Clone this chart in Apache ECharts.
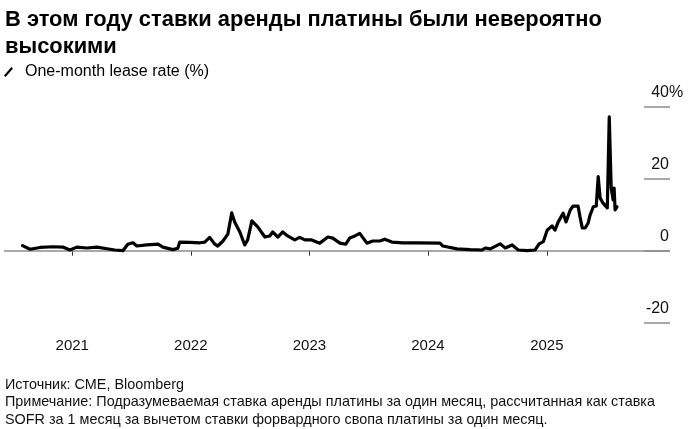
<!DOCTYPE html>
<html>
<head>
<meta charset="utf-8">
<script src="https://cdn.jsdelivr.net/npm/echarts@6/dist/echarts.min.js"></script>
<style>
html,body{margin:0;padding:0;background:#fff;}
#chart{width:691px;height:429px;}
</style>
</head>
<body>
<div id="chart"></div>
<script>
const titleText = 'В этом году ставки аренды платины были невероятно\nвысокими';
const legendName = 'One-month lease rate (%)';
const footerText = 'Источник: CME, Bloomberg\nПримечание: Подразумеваемая ставка аренды платины за один месяц, рассчитанная как ставка\nSOFR за 1 месяц за вычетом ставки форвардного свопа платины за один месяц.';

const dates = [
 '2020-08-01','2020-08-24','2020-09-24','2020-11-03','2020-12-03','2020-12-25',
 '2021-01-15','2021-02-15','2021-03-18','2021-04-18','2021-05-12','2021-06-06','2021-06-21','2021-07-07','2021-07-19','2021-08-19','2021-09-22','2021-10-07','2021-11-07','2021-11-22','2021-11-28','2021-12-29',
 '2022-01-29','2022-02-13','2022-02-28','2022-03-16','2022-03-25','2022-04-10','2022-04-25','2022-05-07','2022-05-16','2022-05-22','2022-06-01','2022-06-16','2022-06-25','2022-07-08','2022-07-26','2022-08-17','2022-09-01','2022-09-10','2022-09-26','2022-10-11','2022-10-26','2022-11-17','2022-12-02','2022-12-18',
 '2023-01-08','2023-02-02','2023-02-27','2023-03-14','2023-04-05','2023-04-23','2023-05-05','2023-05-21','2023-06-05','2023-06-27','2023-07-15','2023-08-06','2023-08-21','2023-09-12','2023-10-16','2023-11-28',
 '2024-02-07','2024-02-16','2024-03-30','2024-05-10','2024-06-16','2024-06-25','2024-07-11','2024-08-10','2024-08-26','2024-09-16','2024-10-05','2024-11-01','2024-11-26','2024-12-08','2024-12-21',
 '2025-01-02','2025-01-17','2025-01-26','2025-02-05','2025-02-20','2025-03-01','2025-03-14','2025-03-23','2025-04-07','2025-04-13','2025-04-20','2025-04-29','2025-05-08','2025-05-14','2025-05-24','2025-06-02','2025-06-08','2025-06-14','2025-06-23','2025-07-06','2025-07-12','2025-07-18','2025-07-24','2025-07-27','2025-07-30','2025-08-05'
];
const leaseRate = [
 1.4,0.4,0.9,1.1,1.0,0.2,
 1.0,0.75,1.0,0.55,0.2,0.0,1.8,2.2,1.3,1.6,1.8,1.0,0.3,0.7,2.4,2.3,
 2.2,2.4,3.7,1.8,1.3,2.7,4.6,10.5,8.0,8.5,5.2,1.6,3.0,8.3,6.6,3.8,4.1,5.2,3.8,5.2,4.1,3.0,3.7,3.0,
 3.0,2.1,3.8,3.5,2.1,1.8,3.5,4.1,4.8,2.1,2.7,2.7,3.2,2.4,2.2,2.2,
 2.1,1.3,0.5,0.3,0.2,0.75,0.5,1.9,0.75,1.6,0.2,0.0,0.2,1.9,2.5,
 5.7,6.9,5.7,8.0,10.4,8.0,11.3,12.4,12.4,9.4,6.3,6.3,7.7,9.9,12.2,12.4,20.6,14.6,13.2,11.9,37.2,17.4,14.1,17.4,11.3,12.2
];
const yearTicks = ['2021-01-01', '2022-01-01', '2023-01-01', '2024-01-01', '2025-01-01'];
const yTicks = [-20, 0, 20, 40];
const xRange = ['2020-06-05', '2026-01-15'];

const toTime = s => echarts.number.parseDate(s).getTime();
const yearTickValues = yearTicks.map(toTime);

const chart = echarts.init(document.getElementById('chart'), null, {renderer: 'canvas'});
const FONT = '"Liberation Sans", Arial, sans-serif';

chart.setOption({
  animation: false,
  backgroundColor: '#ffffff',
  textStyle: {fontFamily: FONT},
  title: [
    {
      text: titleText, left: 5, top: 6, padding: 0,
      textStyle: {fontFamily: FONT, fontSize: 21.9, fontWeight: 'bold', color: '#000', lineHeight: 27}
    },
    {
      text: footerText, left: 5, top: 376, padding: 0,
      textStyle: {fontFamily: FONT, fontSize: 14.4, fontWeight: 'normal', color: '#111', lineHeight: 17.5}
    }
  ],
  legend: {
    left: 4, top: 63, padding: 0, itemWidth: 9, itemHeight: 10,
    icon: 'path://M0,8.6 L7.4,0 L9,1.4 L1.6,10 Z',
    textStyle: {fontFamily: FONT, fontSize: 16, color: '#000', padding: [0,0,0,7], lineHeight: 18},
    data: [{name: legendName, itemStyle: {color: '#000'}}],
    selectedMode: false
  },
  grid: [
    {left: 4, right: 21, top: 106.7, bottom: 106.3, containLabel: false},
    {left: 644, right: 21, top: 106.7, bottom: 106.3, containLabel: false}
  ],
  xAxis: [
    {
      type: 'value', gridIndex: 0, min: toTime(xRange[0]), max: toTime(xRange[1]),
      axisLine: {show: false},
      axisTick: {show: true, length: 5, lineStyle: {color: '#333', width: 1}, customValues: yearTickValues},
      splitLine: {show: false},
      axisLabel: {
        customValues: yearTickValues,
        formatter: function (v) { return String(new Date(v).getFullYear()); },
        margin: 16, fontSize: 15, color: '#111', fontFamily: FONT, hideOverlap: false
      }
    },
    {type: 'value', gridIndex: 1, show: false, min: 0, max: 1}
  ],
  yAxis: [
    {type: 'value', gridIndex: 0, min: yTicks[0], max: yTicks[yTicks.length - 1], interval: 20, show: false},
    {
      type: 'value', gridIndex: 1, position: 'right',
      min: yTicks[0], max: yTicks[yTicks.length - 1], interval: 20,
      axisLine: {show: false}, axisTick: {show: false},
      splitLine: {show: true, lineStyle: {color: '#8c8c8c', width: 1.5}},
      axisLabel: {
        inside: true, margin: 1, fontSize: 16, color: '#111', fontFamily: FONT,
        verticalAlign: 'bottom', lineHeight: 16, padding: [0, 0, 6, 0],
        formatter: function (v) { return v === 40 ? '{n|40}{p|%}' : '{n|' + v + '}'; },
        rich: {
          n: {fontSize: 16, fontFamily: FONT, color: '#111', lineHeight: 16, align: 'left'},
          p: {fontSize: 16, fontFamily: FONT, color: '#111', lineHeight: 16, width: 0, align: 'left'}
        }
      }
    }
  ],
  series: [
    {
      name: legendName, type: 'line', xAxisIndex: 0, yAxisIndex: 0,
      data: dates.map((d, i) => [toTime(d), leaseRate[i]]),
      showSymbol: false, symbol: 'none',
      lineStyle: {color: '#000', width: 3.2, join: 'round', cap: 'round'},
      itemStyle: {color: '#000'},
      z: 5,
      markLine: {
        silent: true, symbol: 'none', label: {show: false},
        lineStyle: {color: '#8c8c8c', width: 1.5, type: 'solid'},
        data: [{yAxis: 0}],
        z: 1
      }
    }
  ]
});
</script>
</body>
</html>
